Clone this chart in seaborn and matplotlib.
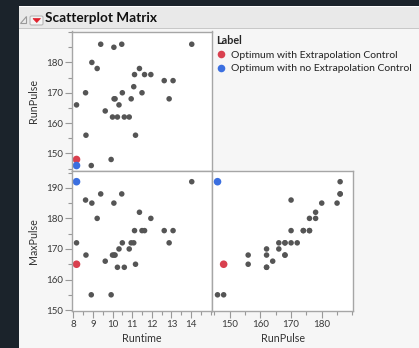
import matplotlib
matplotlib.use("Agg")
import matplotlib.pyplot as plt
from matplotlib.patches import Rectangle, Polygon, FancyBboxPatch
from matplotlib.ticker import FixedLocator
import numpy as np
import pandas as pd
import seaborn as sns

# Fitness study: run time (min), pulse while running, max pulse
runtime = [11.37, 10.07, 8.65, 8.17, 9.22, 11.63, 11.95, 10.85, 13.08, 8.63,
           10.13, 14.03, 11.12, 10.60, 10.33, 8.95, 10.95, 10.00, 10.25, 10.08,
           12.63, 11.17, 9.63, 8.92, 11.08, 12.88, 10.47, 9.93, 9.40, 11.50, 10.50]
run_pulse = [178, 185, 156, 166, 178, 176, 176, 162, 174, 170,
             168, 186, 176, 162, 166, 180, 168, 162, 162, 168,
             174, 156, 164, 146, 172, 168, 186, 148, 186, 170, 170]
max_pulse = [182, 185, 168, 172, 180, 176, 180, 170, 176, 186,
             168, 192, 176, 164, 170, 185, 172, 168, 164, 168,
             176, 165, 166, 155, 172, 172, 188, 155, 188, 176, 172]

# Profiler optima appended as labelled rows
opt_labels = ["Optimum with Extrapolation Control",
              "Optimum with no Extrapolation Control"]
opt_runtime = [8.17, 8.17]
opt_run_pulse = [148, 146]
opt_max_pulse = [165, 192]
opt_colors = ["#d9404f", "#3b6fe0"]

# tick labels per axis
runtime_ticks = [8, 9, 10, 11, 12, 13, 14]
runpulse_ticks = [150, 160, 170, 180]
maxpulse_ticks = [150, 160, 170, 180, 190]

data = pd.DataFrame({"Runtime": runtime, "RunPulse": run_pulse, "MaxPulse": max_pulse})
optima = pd.DataFrame({"Label": opt_labels, "Runtime": opt_runtime,
                       "RunPulse": opt_run_pulse, "MaxPulse": opt_max_pulse})
palette = dict(zip(opt_labels, opt_colors))

sns.set_style("white")
plt.rcParams["font.family"] = ["Lato", "DejaVu Sans"]

W, H = 419, 348
fig = plt.figure(figsize=(W / 100, H / 100), dpi=100)
fig.patch.set_facecolor("#1b232b")
renderer = fig.canvas.get_renderer()

def fx(px):
    return px / W

def fy(py):
    return 1 - py / H

def size_for_width(text, width_px, **props):
    """Font size at which `text` spans width_px pixels."""
    t = fig.text(0, 0, text, fontsize=10, **props)
    w = t.get_window_extent(renderer).width
    t.remove()
    return 10 * width_px / w

def add_patch(p, z=-5):
    p.set_zorder(z)
    fig.patches.append(p)

# report window background and title bar
add_patch(Rectangle((fx(19), 0), 1, fy(6), transform=fig.transFigure,
                    facecolor="#f6f6f6", edgecolor="none"))
add_patch(Rectangle((fx(19), fy(28)), 1, (28 - 7) / H, transform=fig.transFigure,
                    facecolor="#e9e9e9", edgecolor="none"), -4)
add_patch(Rectangle((fx(19), fy(7)), 1, 1.5 / H, transform=fig.transFigure,
                    facecolor="#ffffff", edgecolor="none"), -4)
add_patch(Rectangle((fx(19), fy(29)), 1, 1.5 / H, transform=fig.transFigure,
                    facecolor="#c8c8c8", edgecolor="none"), -4)
# disclosure triangle
add_patch(Polygon([(fx(26), fy(16)), (fx(26), fy(23)), (fx(19.5), fy(23))],
                  closed=True, transform=fig.transFigure,
                  facecolor="#ececec", edgecolor="#9a9a9a", lw=0.8), -3)
# red hotspot button
add_patch(FancyBboxPatch((fx(30), fy(25)), 13 / W, 9 / H,
                         boxstyle="round,pad=0,rounding_size=0.004",
                         transform=fig.transFigure, facecolor="#f4f4f4",
                         edgecolor="#b8b8b8", lw=0.8), -3)
add_patch(Polygon([(fx(33), fy(18.5)), (fx(40.5), fy(18.5)), (fx(36.75), fy(22.5))],
                  closed=True, transform=fig.transFigure,
                  facecolor="#e0202c", edgecolor="#e0202c", lw=0.5), -2)
title_size = size_for_width("Scatterplot Matrix", 111, fontweight="bold")
fig.text(fx(45), fy(18.5), "Scatterplot Matrix", fontsize=title_size, fontweight="bold",
         color="#111111", va="center", ha="left")

def make_ax(x0, y0, x1, y1):
    ax = fig.add_axes([fx(x0), fy(y1), (x1 - x0) / W, (y1 - y0) / H])
    ax.set_facecolor("white")
    ax.set_zorder(2)
    for s in ax.spines.values():
        s.set_color("#a6a6a6")
        s.set_linewidth(1.0)
    return ax

ax_tl = make_ax(72, 31.5, 212, 171)
ax_bl = make_ax(72, 171, 212, 311)
ax_br = make_ax(212, 171, 353, 311)

gray = "#555555"
kw = dict(s=16, color=gray, edgecolor="none", legend=False)
okw = dict(s=30, edgecolor="none", hue="Label", palette=palette)

sns.scatterplot(data=data, x="Runtime", y="RunPulse", ax=ax_tl, **kw)
sns.scatterplot(data=optima, x="Runtime", y="RunPulse", ax=ax_tl, legend=False, **okw)
sns.scatterplot(data=data, x="Runtime", y="MaxPulse", ax=ax_bl, **kw)
sns.scatterplot(data=optima, x="Runtime", y="MaxPulse", ax=ax_bl, legend=False, **okw)
sns.scatterplot(data=data, x="RunPulse", y="MaxPulse", ax=ax_br, **kw)
sns.scatterplot(data=optima, x="RunPulse", y="MaxPulse", ax=ax_br, legend=True, **okw)

rt_lim = (7.94, 15.06)
rp_lim = (144.2, 190.2)
mp_lim = (149.7, 195.5)

ax_tl.set_xlim(rt_lim); ax_tl.set_ylim(rp_lim)
ax_bl.set_xlim(rt_lim); ax_bl.set_ylim(mp_lim)
ax_br.set_xlim(rp_lim); ax_br.set_ylim(mp_lim)

tick_font = size_for_width("180", 17)
lab_color = "#333333"

def style_axis(axis, major, lim, step):
    axis.set_major_locator(FixedLocator(major))
    minor = np.arange(np.ceil(lim[0] / step) * step, lim[1] + 1e-9, step)
    minor = [m for m in minor if not any(abs(m - v) < 1e-9 for v in major)]
    axis.set_minor_locator(FixedLocator(minor))

for ax in (ax_tl, ax_bl, ax_br):
    ax.tick_params(which="both", direction="out", color="#999999",
                   labelsize=tick_font, labelcolor="#3a3a3a", pad=1.5)
    ax.tick_params(which="major", length=5, width=0.8)
    ax.tick_params(which="minor", length=3, width=0.8)
    ax.set_xlabel("")
    ax.set_ylabel("")

# top-left: only y axis shown
style_axis(ax_tl.yaxis, runpulse_ticks, rp_lim, 5)
ax_tl.tick_params(axis="x", which="both", bottom=False, labelbottom=False)
ax_tl.tick_params(axis="y", which="both", left=True)

# bottom-left: both axes
style_axis(ax_bl.yaxis, maxpulse_ticks, mp_lim, 5)
style_axis(ax_bl.xaxis, runtime_ticks, rt_lim, 0.5)
ax_bl.tick_params(axis="both", which="both", left=True, bottom=True)

# bottom-right: only x axis shown
style_axis(ax_br.xaxis, runpulse_ticks, rp_lim, 5)
ax_br.tick_params(axis="y", which="both", left=False, labelleft=False)
ax_br.tick_params(axis="x", which="both", bottom=True)

label_font = size_for_width("Runtime", 39)
fig.text(fx(33), fy(101), "RunPulse", rotation=90, fontsize=label_font,
         color=lab_color, ha="center", va="center")
fig.text(fx(33), fy(241), "MaxPulse", rotation=90, fontsize=label_font,
         color=lab_color, ha="center", va="center")
fig.text(fx(142), fy(339), "Runtime", fontsize=label_font, color=lab_color,
         ha="center", va="center")
fig.text(fx(283), fy(339), "RunPulse", fontsize=label_font, color=lab_color,
         ha="center", va="center")

# legend for the labelled rows, placed in the empty upper-right cell
legend_font = size_for_width(opt_labels[1], 181)
handles, labels = ax_br.get_legend_handles_labels()
ax_br.get_legend().remove()
leg = fig.legend(handles, labels, loc="upper left",
                 bbox_to_anchor=(fx(213.5), fy(31.5)), bbox_transform=fig.transFigure,
                 frameon=False, title="Label", alignment="left",
                 fontsize=legend_font,
                 title_fontproperties={"weight": "bold", "size": legend_font + 0.3},
                 handletextpad=0.5, handlelength=0.9, borderpad=0.3,
                 labelspacing=0.45, borderaxespad=0)
for t in leg.get_texts():
    t.set_color("#222222")

fig.savefig("out.png", dpi=100, facecolor=fig.get_facecolor())
